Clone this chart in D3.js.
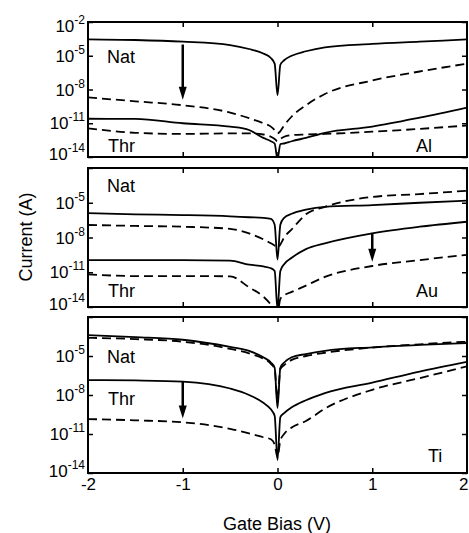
<!DOCTYPE html>
<html>
<head>
<meta charset="utf-8">
<script src="https://cdn.jsdelivr.net/npm/d3@7"></script>
<style>
  html, body { margin: 0; padding: 0; background: #fff; }
  svg { display: block; }
  text { font-family: "Liberation Sans", Arial, sans-serif; fill: #000; }
</style>
</head>
<body>
<svg id="chart" width="469" height="533"></svg>
<script>
// ---------- DATA ----------
// Gate bias values (V) shared by every curve
const gateBias = [-2, -1.5, -1, -0.5, -0.3, -0.15, -0.07, -0.03, 0, 0.03, 0.07, 0.15, 0.3, 0.5, 1, 1.5, 2];

// log10(Current / A) for each curve; "Nat" = native (solid), "T" suffix = after treatment (dashed)
const alNat    = [-3.54, -3.6, -3.75, -4.05, -4.4, -4.8, -5.2, -5.7, -8.5, -5.8, -5.4, -5.0, -4.6, -4.25, -3.95, -3.75, -3.55];
const alNatT   = [-8.7, -9.05, -9.4, -10.05, -10.55, -11.0, -11.3, -11.6, -11.9, -11.7, -11.2, -10.4, -9.4, -8.4, -7.2, -6.4, -5.7];
const alThr    = [-10.6, -10.62, -11.0, -11.3, -11.6, -12.3, -12.6, -12.8, -14.2, -12.85, -12.8, -12.6, -12.3, -11.85, -11.3, -10.5, -9.6];
const alThrT   = [-11.45, -11.85, -11.95, -11.9, -11.9, -12.0, -12.2, -12.4, -12.6, -12.4, -12.2, -12.05, -12.0, -11.95, -11.75, -11.5, -11.2];

const auNat    = [-5.9, -6.0, -6.06, -6.17, -6.25, -6.3, -6.4, -6.9, -9.9, -6.9, -6.3, -5.95, -5.6, -5.35, -5.2, -5.0, -4.82];
const auNatT   = [-6.92, -7.0, -7.07, -7.25, -7.65, -8.15, -8.5, -8.7, -8.9, -8.6, -8.0, -7.3, -6.0, -5.35, -4.5, -4.25, -3.96];
const auThr    = [-9.95, -9.95, -9.95, -10.0, -10.35, -10.5, -10.65, -10.9, -14.2, -10.9, -10.3, -9.75, -9.0, -8.5, -7.64, -7.07, -6.64];
const auThrT   = [-11.18, -11.33, -11.33, -11.35, -12.3, -13.1, -13.8, -14.3, -14.5, -13.3, -13.0, -12.7, -12.15, -11.4, -10.46, -9.95, -9.5];

const tiNat    = [-3.4, -3.55, -3.75, -4.3, -4.6, -5.1, -5.5, -5.9, -9.0, -5.9, -5.5, -5.1, -4.85, -4.6, -4.33, -4.15, -4.0];
const tiNatT   = [-3.6, -3.7, -3.9, -4.45, -4.8, -5.2, -5.6, -6.0, -8.3, -6.0, -5.7, -5.3, -5.0, -4.75, -4.35, -4.1, -3.9];
const tiThr    = [-6.85, -6.88, -6.97, -7.5, -8.0, -8.6, -9.1, -9.6, -13.0, -9.7, -9.4, -8.95, -8.4, -7.85, -7.05, -6.2, -5.45];
const tiThrT   = [-9.85, -9.95, -10.1, -10.6, -10.95, -11.25, -11.4, -11.8, -12.8, -11.5, -11.0, -10.5, -10.0, -9.05, -7.6, -6.7, -5.8];

// Arrows: [gate bias, log10 start, log10 end]
const alArrow = [-1, -4.0, -8.9];
const auArrow = [1, -7.6, -10.1];
const tiArrow = [-1, -7.0, -9.8];

// Labels
const metals = ["Al", "Au", "Ti"];
const xTicks = [-2, -1, 0, 1, 2];
const yTickExps = [-2, -5, -8, -11, -14];

// ---------- LAYOUT ----------
const svg = d3.select("#chart");
const xL = 88, xR = 467;
const panelBoxes = [
  { top: 22, bottom: 157, natY: 63, thrY: 152, metalY: 152, metalX: 416, series: [alNat, alNatT, alThr, alThrT], arrow: alArrow, showTop: true },
  { top: 168, bottom: 307, natY: 192, thrY: 297, metalY: 297, metalX: 416, series: [auNat, auNatT, auThr, auThrT], arrow: auArrow, showTop: false },
  { top: 317, bottom: 473, natY: 363, thrY: 405, metalY: 462, metalX: 428, series: [tiNat, tiNatT, tiThr, tiThrT], arrow: tiArrow, showTop: false }
];

const x = d3.scaleLinear().domain([-2, 2]).range([xL, xR]);

const defs = svg.append("defs");

panelBoxes.forEach((p, i) => {
  const y = d3.scaleLog().domain([1e-14, 1e-2]).range([p.bottom, p.top]);
  const g = svg.append("g");

  defs.append("clipPath").attr("id", "clip" + i)
    .append("rect").attr("x", xL).attr("y", p.top).attr("width", xR - xL).attr("height", p.bottom - p.top);

  const line = d3.line()
    .x((d, k) => x(gateBias[k]))
    .y(d => y(Math.pow(10, d)))
    .curve(d3.curveMonotoneX);

  const cg = g.append("g").attr("clip-path", `url(#clip${i})`);
  p.series.forEach((s, k) => {
    cg.append("path")
      .attr("d", line(s))
      .attr("fill", "none")
      .attr("stroke", "#000")
      .attr("stroke-width", 1.8)
      .attr("stroke-linejoin", "round")
      .attr("stroke-dasharray", k % 2 === 1 ? "9,5" : null);
  });

  // arrow
  const [av, a0, a1] = p.arrow;
  const ax = x(av), ay0 = y(Math.pow(10, a0)), ay1 = y(Math.pow(10, a1));
  const headL = 13, headW = 4;
  g.append("line").attr("x1", ax).attr("x2", ax).attr("y1", ay0).attr("y2", ay1 - headL + 2)
    .attr("stroke", "#000").attr("stroke-width", 2.5);
  g.append("path")
    .attr("d", `M${ax - headW},${ay1 - headL} L${ax + headW},${ay1 - headL} L${ax},${ay1} Z`)
    .attr("fill", "#000");

  // axes (inward ticks)
  const yTicksVals = yTickExps.map(e => Math.pow(10, e));
  g.append("g").attr("transform", `translate(${xL},0)`)
    .call(d3.axisLeft(y).tickValues(yTicksVals).tickSize(-5).tickFormat(""))
    .call(a => a.select(".domain").remove())
    .call(a => a.selectAll("line").attr("stroke-width", 1.5));
  g.append("g").attr("transform", `translate(${xR},0)`)
    .call(d3.axisRight(y).tickValues(yTicksVals).tickSize(-5).tickFormat(""))
    .call(a => a.select(".domain").remove())
    .call(a => a.selectAll("line").attr("stroke-width", 1.5));
  g.append("g").attr("transform", `translate(0,${p.top})`)
    .call(d3.axisTop(x).tickValues([-1, 0, 1]).tickSize(-5).tickFormat(""))
    .call(a => a.select(".domain").remove())
    .call(a => a.selectAll("line").attr("stroke-width", 1.5));
  g.append("g").attr("transform", `translate(0,${p.bottom})`)
    .call(d3.axisBottom(x).tickValues([-1, 0, 1]).tickSize(-5).tickFormat(""))
    .call(a => a.select(".domain").remove())
    .call(a => a.selectAll("line").attr("stroke-width", 1.5));

  // frame
  g.append("rect").attr("x", xL).attr("y", p.top).attr("width", xR - xL).attr("height", p.bottom - p.top)
    .attr("fill", "none").attr("stroke", "#000").attr("stroke-width", 2);

  // y tick labels
  yTickExps.forEach(e => {
    if (e === -2 && !p.showTop) return;
    let off = 6;
    if (e === -2) off = 10;
    if (e === -14) off = i === 2 ? 4 : 3;
    const t = g.append("text")
      .attr("x", 85)
      .attr("y", y(Math.pow(10, e)) + off)
      .attr("text-anchor", "end")
      .style("font-size", "17px");
    t.append("tspan").text("10");
    t.append("tspan").attr("dy", -8).style("font-size", "12px").text(String(e));
  });

  // panel labels
  g.append("text").attr("x", 107).attr("y", p.natY).style("font-size", "18px").text("Nat");
  g.append("text").attr("x", 108).attr("y", p.thrY).style("font-size", "18px").text("Thr");
  g.append("text").attr("x", p.metalX).attr("y", p.metalY).style("font-size", "18px").text(metals[i]);
});

// x tick labels (bottom panel)
const lastBottom = panelBoxes[2].bottom;
svg.append("g").attr("transform", `translate(0,${lastBottom})`)
  .call(d3.axisBottom(x).tickValues(xTicks).tickSize(0).tickPadding(4).tickFormat(d => String(d)))
  .call(a => a.select(".domain").remove())
  .call(a => a.selectAll("text").style("font-size", "17px").attr("dy", null).attr("y", 17)
    .style("font-family", '"Liberation Sans", Arial, sans-serif'))
  // keep the last label inside the window
  .call(a => a.selectAll(".tick").filter(d => d === 2).select("text").attr("text-anchor", "end").attr("x", 1));

// axis titles
svg.append("text").attr("x", 277).attr("y", 530).attr("text-anchor", "middle")
  .style("font-size", "18px").text("Gate Bias (V)");
svg.append("text").attr("transform", "translate(32,237) rotate(-90)").attr("text-anchor", "middle")
  .style("font-size", "18px").text("Current (A)");
</script>
</body>
</html>
